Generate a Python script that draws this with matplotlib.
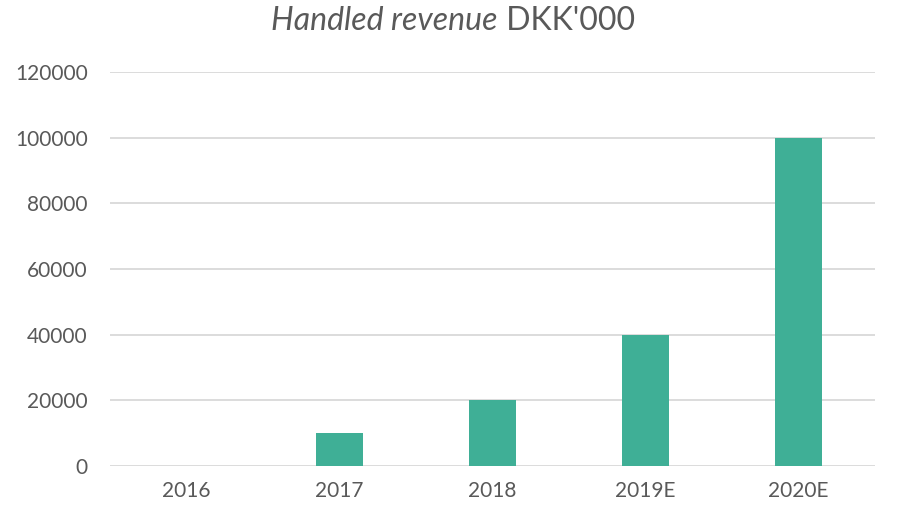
import matplotlib
matplotlib.use("Agg")
import matplotlib.pyplot as plt

categories = ["2016", "2017", "2018", "2019E", "2020E"]
values = [0, 10000, 20000, 40000, 100000]

plt.rcParams['font.family'] = ['Lato', 'DejaVu Sans']

fig = plt.figure(figsize=(9.05, 5.26), dpi=100)
ax = fig.add_axes([110/905, 1-466/526, (875-110)/905, (466-72)/526])

x = range(len(categories))
ax.bar(x, values, width=0.31, color="#3FAF96", zorder=3)
ax.set_xlim(-0.5, len(categories)-0.5)
ax.set_ylim(0, 120000)
ax.set_yticks(range(0, 120001, 20000))
ax.set_yticklabels([str(v) for v in range(0, 120001, 20000)])
ax.set_xticks(list(x))
ax.set_xticklabels(categories)
ax.grid(axis='y', color="#D9D9D9", linewidth=1.3, zorder=0)
for s in ax.spines.values():
    s.set_visible(False)
ax.tick_params(axis='both', length=0, labelsize=15, colors="#595959")
ax.tick_params(axis='y', pad=16)
ax.tick_params(axis='x', pad=11)

ty = 1 - 21/526
a = fig.text(0.5, ty, "Handled revenue", ha='left', va='center', fontsize=23,
             color="#595959", style='italic')
b = fig.text(0.5, ty, " DKK'000", ha='left', va='center', fontsize=23,
             color="#595959")
fig.canvas.draw()
r = fig.canvas.get_renderer()
wa = a.get_window_extent(r).width
wb = b.get_window_extent(r).width
W = fig.bbox.width
start = 453 - (wa + wb) / 2
a.set_x(start / W)
b.set_x((start + wa) / W)

fig.savefig("out.png", dpi=100, facecolor="white")
